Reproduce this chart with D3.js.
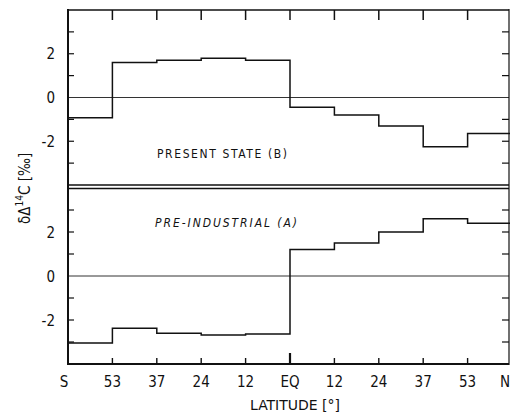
<!DOCTYPE html>
<html><head><meta charset="utf-8">
<script src="https://cdn.jsdelivr.net/npm/d3@7"></script>
<style>
html,body{margin:0;padding:0;background:#fff;}
svg{display:block;}
text{font-family:"DejaVu Sans Condensed","DejaVu Sans",sans-serif;font-stretch:condensed;fill:#111;}
</style></head>
<body>
<svg id="c" width="510" height="416"></svg>
<script>
// ---- data ----
const latLabels = ["S","53","37","24","12","EQ","12","24","37","53","N"];
const presentB  = [-0.92, 1.6, 1.7, 1.8, 1.7, -0.45, -0.8, -1.3, -2.25, -1.65];
const preIndA   = [-3.05, -2.38, -2.6, -2.68, -2.64, 1.2, 1.5, 2.0, 2.6, 2.4];
const yTickVals = [-3, -2, -1, 1, 2, 3];
const yLabelVals = [-2, 0, 2];

const svg = d3.select("#c");
const L = 68, R = 509;
const x = d3.scaleLinear().domain([0, 10]).range([68, 512]);
const yB = d3.scaleLinear().domain([-4, 4]).range([185, 10]);
const yA = d3.scaleLinear().domain([-4, 4]).range([364, 188]);

function panel(y, vals, label, italic, lx, ly, lw) {
  const g = svg.append("g");
  g.append("line").attr("x1", L).attr("x2", R).attr("y1", y(0)).attr("y2", y(0))
    .attr("stroke", "#333").attr("stroke-width", 1);
  const pts = vals.map((v, i) => [i, v]).concat([[10, vals[vals.length - 1]]]);
  g.append("path").datum(pts)
    .attr("d", d3.line().x(d => x(d[0])).y(d => y(d[1])).curve(d3.curveStepAfter))
    .attr("fill", "none").attr("stroke", "#111").attr("stroke-width", 1.5);
  yTickVals.forEach(v => {
    g.append("line").attr("x1", L).attr("x2", L + 6).attr("y1", y(v)).attr("y2", y(v))
      .attr("stroke", "#111").attr("stroke-width", 1.2);
    g.append("line").attr("x1", R - 7).attr("x2", R).attr("y1", y(v)).attr("y2", y(v))
      .attr("stroke", "#111").attr("stroke-width", 1.2);
  });
  yLabelVals.forEach(v => {
    g.append("text").attr("x", 55).attr("y", y(v) + 5.5).attr("text-anchor", "end")
      .attr("font-size", 15).text(v < 0 ? "-" + Math.abs(v) : String(v));
  });
  g.append("text").attr("x", lx).attr("y", ly).attr("font-size", 12)
    .attr("font-style", italic ? "italic" : "normal")
    .attr("textLength", lw).attr("lengthAdjust", "spacing").text(label);
}

panel(yB, presentB, "PRESENT STATE (B)", false, 157, 158, 130);
panel(yA, preIndA, "PRE-INDUSTRIAL (A)", true, 155, 227, 142);

// frame
svg.append("line").attr("x1", L).attr("x2", R).attr("y1", 10).attr("y2", 10).attr("stroke", "#111").attr("stroke-width", 1.6);
svg.append("line").attr("x1", L).attr("x2", R).attr("y1", 185).attr("y2", 185).attr("stroke", "#111").attr("stroke-width", 1.3);
svg.append("line").attr("x1", L).attr("x2", R).attr("y1", 188.5).attr("y2", 188.5).attr("stroke", "#111").attr("stroke-width", 1.3);
svg.append("line").attr("x1", L).attr("x2", R).attr("y1", 364).attr("y2", 364).attr("stroke", "#111").attr("stroke-width", 2);
svg.append("line").attr("x1", L).attr("x2", L).attr("y1", 9).attr("y2", 365).attr("stroke", "#111").attr("stroke-width", 2);
svg.append("line").attr("x1", R).attr("x2", R).attr("y1", 9).attr("y2", 365).attr("stroke", "#111").attr("stroke-width", 1.2);

d3.range(1, 10).forEach(i => {
  svg.append("line").attr("x1", x(i)).attr("x2", x(i)).attr("y1", 10).attr("y2", 20)
    .attr("stroke", "#111").attr("stroke-width", 1.5);
  svg.append("line").attr("x1", x(i)).attr("x2", x(i)).attr("y1", i === 5 ? 353 : 358).attr("y2", 364)
    .attr("stroke", "#111").attr("stroke-width", i === 5 ? 2.2 : 1.4);
});

latLabels.forEach((t, i) => {
  let xx = x(i);
  if (i === 0) xx = 64;
  if (i === 10) xx = 505;
  svg.append("text").attr("x", xx).attr("y", 387).attr("text-anchor", "middle")
    .attr("font-size", 15).text(t);
});

svg.append("text").attr("x", 295).attr("y", 410).attr("text-anchor", "middle")
  .attr("font-size", 14).attr("textLength", 90).attr("lengthAdjust", "spacingAndGlyphs").text("LATITUDE [°]");

const yt = svg.append("text").attr("transform", "translate(30,224) rotate(-90)")
  .attr("font-size", 15);
yt.append("tspan").text("δΔ");
yt.append("tspan").attr("font-size", 10).attr("dy", -7).text("14");
yt.append("tspan").attr("dy", 7).text("C [‰]");
</script>
</body></html>
